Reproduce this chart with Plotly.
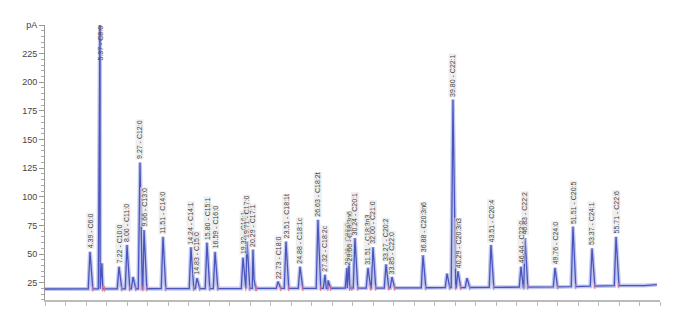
import numpy as np
import plotly.graph_objects as go

# Retention times (min) and heights (pA) of labelled peaks
peak_rt = [4.39, 5.37, 7.22, 8.00, 9.27, 9.66, 11.51, 14.24, 14.83, 15.80, 16.59,
           19.32, 19.71, 20.29, 22.73, 23.51, 24.88, 26.63, 27.32, 29.46, 29.66,
           30.24, 31.51, 32.00, 33.27, 33.85, 36.88, 39.80, 40.29, 43.51, 46.44,
           46.83, 49.76, 51.51, 53.37, 55.71]
peak_h = [52, 262, 39, 58, 130, 71, 65, 56, 29, 60, 52,
          47, 61, 54, 26, 61, 39, 80, 32, 38, 41,
          64, 38, 56, 41, 30, 49, 185, 35, 58, 39,
          64, 38, 74, 55, 65]
peak_names = ["C6:0", "C8:0", "C10:0", "C11:0", "C12:0", "C13:0", "C14:0", "C14:1",
              "C15:0", "C15:1", "C16:0", "C16:1", "C17:0", "C17:1", "C18:0", "C18:1t",
              "C18:1c", "C18:2t", "C18:2c", "C20:0", "C18:3n6", "C20:1", "C18:3n3",
              "C21:0", "C20:2", "C22:0", "C20:3n6", "C22:1", "C20:3n3", "C20:4",
              "C23:0", "C22:2", "C24:0", "C20:5", "C24:1", "C22:6"]

# Unlabelled small peaks
small_rt = [5.55, 8.59, 20.39, 27.61, 39.22, 41.17]
small_h = [42, 30, 28, 27, 33, 29]

# Baseline drift
base_t = [0.0, 30.0, 50.0, 56.0, 58.5, 59.7]
base_v = [19.5, 20.2, 21.3, 22.5, 22.5, 23.3]

y_ticks = [25, 50, 75, 100, 125, 150, 175, 200, 225, 250]
y_ticktext = ["25", "50", "75", "100", "125", "150", "175", "200", "225", "pA"]

Y_MIN, Y_MAX = 9.9, 250
HW = 0.17

all_rt = peak_rt + small_rt
all_h = peak_h + small_h
order = np.argsort(all_rt)
pts = [(t, v) for t, v in zip(base_t, base_v)]
for i in order:
    t, h = all_rt[i], all_h[i]
    b0 = float(np.interp(t - HW, base_t, base_v))
    b1 = float(np.interp(t + HW * 1.6, base_t, base_v))
    pts.append((t - HW, b0))
    pts.append((t, h))
    pts.append((t + HW * 1.6, b1))
pts.sort(key=lambda p: p[0])
xs = [p[0] for p in pts]
ys = [p[1] for p in pts]

fig = go.Figure()
fig.add_trace(go.Scatter(x=xs, y=ys, mode="lines",
                         line=dict(color="rgba(120,130,215,0.45)", width=4),
                         hoverinfo="skip", showlegend=False))
fig.add_trace(go.Scatter(x=xs, y=ys, mode="lines",
                         line=dict(color="#4a55bd", width=1.3),
                         showlegend=False))
# peak start/end markers
mk_x = [t + HW * 1.6 for t in all_rt]
mk_y = [float(np.interp(t, base_t, base_v)) for t in mk_x]
fig.add_trace(go.Scatter(x=mk_x, y=mk_y, mode="markers",
                         marker=dict(symbol="line-ns-open", size=4, color="#e0708a",
                                     line=dict(color="#e0708a", width=1)),
                         showlegend=False, hoverinfo="skip"))

annotations = []
for t, h, n in zip(peak_rt, peak_h, peak_names):
    txt = f"{t:.2f} - {n}"
    common = dict(x=t, xref="x", yref="y", text=txt, textangle=-90,
                  showarrow=False, xanchor="center", borderpad=0,
                  font=dict(size=7, color="#444", family="Liberation Sans"))
    if h > Y_MAX:
        annotations.append(dict(y=Y_MAX, yanchor="top", bgcolor="rgba(0,0,0,0)", **common))
    else:
        annotations.append(dict(y=h, yanchor="bottom", yshift=2,
                                bgcolor="rgba(225,225,225,0.55)", **common))

fig.update_layout(
    width=687, height=336,
    margin=dict(l=45, r=27, t=25, b=36),
    paper_bgcolor="white", plot_bgcolor="white",
    annotations=annotations,
    font=dict(family="Liberation Sans", size=9, color="#444"),
)
fig.update_xaxes(range=[0, 60], showgrid=False, zeroline=False,
                 showline=True, linecolor="#bbbbbb", linewidth=2,
                 ticks="outside", ticklen=4, tickcolor="#bbbbbb", dtick=2,
                 showticklabels=False)
fig.update_yaxes(range=[Y_MIN, Y_MAX], showgrid=False, zeroline=False,
                 showline=True, linecolor="#999999", linewidth=1,
                 ticks="outside", ticklen=5, tickcolor="#999999",
                 tickvals=y_ticks, ticktext=y_ticktext,
                 minor=dict(ticks="outside", ticklen=3, tickcolor="#aaaaaa", dtick=5),
                 tickfont=dict(size=9, color="#444"))

fig.write_html("out.html")
